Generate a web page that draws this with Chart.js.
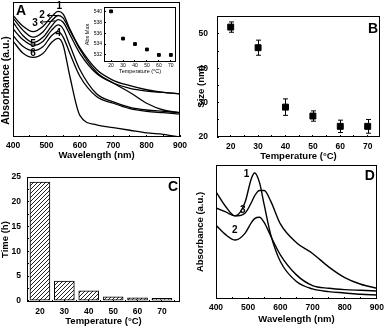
<!DOCTYPE html>
<html lang="en">
<head>
  <meta charset="UTF-8">
  <title>Absorbance / size / time vs temperature</title>
  <style>
    body { margin: 0; background: #fff; }
    #wrap { position: relative; width: 390px; height: 328px; overflow: hidden; background: #fff; }
    canvas { position: absolute; }
  </style>
</head>
<body>
  <div id="wrap">
    <canvas id="chartA" width="195" height="164" style="left:0;top:0"></canvas>
    <canvas id="chartInset" width="100" height="78" style="left:82px;top:0"></canvas>
    <canvas id="chartB" width="195" height="164" style="left:195px;top:0"></canvas>
    <canvas id="chartC" width="195" height="164" style="left:0;top:164px"></canvas>
    <canvas id="chartD" width="195" height="164" style="left:195px;top:164px"></canvas>
  </div>
  <script src="https://cdn.jsdelivr.net/npm/chart.js"></script>
  <script>
    // --- panel A: spectra at six temperatures
    const wavelengthsA = [400, 430, 460, 490, 515, 535, 550, 570, 600, 650, 700, 750, 800, 850, 900];
    const absA1 = [0.90, 0.82, 0.78, 0.82, 0.89, 0.93, 0.91, 0.80, 0.65, 0.48, 0.40, 0.33, 0.25, 0.20, 0.18];
    const absA2 = [0.88, 0.79, 0.74, 0.78, 0.86, 0.90, 0.88, 0.79, 0.66, 0.50, 0.42, 0.38, 0.35, 0.33, 0.32];
    const absA3 = [0.85, 0.75, 0.70, 0.74, 0.82, 0.87, 0.85, 0.76, 0.62, 0.47, 0.40, 0.36, 0.34, 0.33, 0.32];
    const absA4 = [0.80, 0.72, 0.68, 0.71, 0.79, 0.83, 0.80, 0.68, 0.50, 0.32, 0.26, 0.22, 0.20, 0.19, 0.18];
    const absA5 = [0.75, 0.67, 0.64, 0.67, 0.75, 0.78, 0.74, 0.62, 0.45, 0.30, 0.25, 0.21, 0.19, 0.18, 0.17];
    const absA6 = [0.71, 0.62, 0.59, 0.62, 0.70, 0.73, 0.68, 0.45, 0.16, 0.09, 0.07, 0.05, 0.03, 0.02, 0.00];
    const curveNamesA = ['1', '2', '3', '4', '5', '6'];

    // inset of A: peak position vs temperature
    const temps = [20, 30, 40, 50, 60, 70];
    const absMax = [540, 535, 534, 533, 532, 532];

    // --- panel B: particle size
    const sizes = [52, 46, 28.7, 26.1, 23.1, 23.1];
    const sizeErr = [1.5, 2.2, 2.4, 1.5, 1.8, 2.0];

    // --- panel C: reaction time
    const times = [24, 4, 2, 0.8, 0.6, 0.5];

    // --- panel D: three spectra
    const wavelengthsD = [400, 430, 460, 490, 510, 520, 535, 550, 570, 600, 650, 700, 750, 800, 850, 900];
    const absD1 = [0.80, 0.69, 0.62, 0.72, 0.90, 0.94, 0.87, 0.70, 0.48, 0.28, 0.13, 0.075, 0.055, 0.045, 0.035, 0.03];
    const absD2 = [0.55, 0.48, 0.44, 0.49, 0.57, 0.60, 0.61, 0.57, 0.47, 0.33, 0.18, 0.10, 0.08, 0.07, 0.065, 0.06];
    const absD3 = [0.68, 0.65, 0.62, 0.64, 0.72, 0.77, 0.81, 0.81, 0.73, 0.56, 0.42, 0.34, 0.24, 0.16, 0.11, 0.08];
    const curveNamesD = ['1', '2', '3'];

    const FONT = '"Liberation Sans", Arial, sans-serif';
    Chart.defaults.font.family = FONT;
    Chart.defaults.font.weight = 'bold';
    Chart.defaults.color = '#000';

    const pts = (xs, ys) => xs.map((x, i) => ({ x: x, y: ys[i] }));

    // box round the plot, panel letter, own y title and curve notes
    const frame = {
      id: 'frame',
      afterDraw(chart, args, opts) {
        const { ctx, chartArea: a, scales } = chart;
        ctx.save();
        ctx.strokeStyle = '#000';
        ctx.fillStyle = '#000';
        ctx.lineWidth = 1;
        ctx.strokeRect(Math.round(a.left) + 0.5, Math.round(a.top) + 0.5, Math.round(a.width) - 1, Math.round(a.height) - 1);
        if (opts.letter) {
          ctx.font = 'bold 14px ' + FONT;
          ctx.textBaseline = 'top';
          if (opts.letterSide === 'left') {
            ctx.textAlign = 'left';
            ctx.fillText(opts.letter, a.left + 3, a.top + 2);
          } else {
            ctx.textAlign = 'right';
            ctx.fillText(opts.letter, a.right - 2, a.top + (opts.letterDy || 3));
          }
        }
        if (opts.yTitle) {
          const t = opts.yTitle;
          ctx.save();
          ctx.font = 'bold ' + t.size + 'px ' + FONT;
          ctx.textAlign = 'center';
          ctx.textBaseline = 'middle';
          ctx.translate(t.x, (a.top + a.bottom) / 2 + t.dy);
          ctx.rotate(-Math.PI / 2);
          ctx.fillText(t.text, 0, 0);
          ctx.restore();
        }
        ctx.font = 'bold 10px ' + FONT;
        ctx.textAlign = 'center';
        ctx.textBaseline = 'middle';
        (opts.notes || []).forEach(n => {
          ctx.fillText(n.text, scales.x.getPixelForValue(n.x), scales.y.getPixelForValue(n.y));
        });
        (opts.arrows || []).forEach(r => {
          const x1 = scales.x.getPixelForValue(r[0]), y1 = scales.y.getPixelForValue(r[1]);
          const x2 = scales.x.getPixelForValue(r[2]), y2 = scales.y.getPixelForValue(r[3]);
          ctx.beginPath();
          ctx.moveTo(x1, y1); ctx.lineTo(x2, y2);
          ctx.moveTo(x1 + 3, y1 - 2); ctx.lineTo(x1, y1); ctx.lineTo(x1 + 3, y1 + 2);
          ctx.stroke();
        });
        ctx.restore();
      }
    };

    // vertical error bars for panel B
    const errBars = {
      id: 'errBars',
      beforeDatasetsDraw(chart) {
        const { ctx, scales } = chart;
        ctx.save();
        ctx.strokeStyle = '#000';
        ctx.lineWidth = 1;
        temps.forEach((t, i) => {
          const x = Math.round(scales.x.getPixelForValue(t)) + 0.5;
          const yTop = scales.y.getPixelForValue(sizes[i] + sizeErr[i]);
          const yBot = scales.y.getPixelForValue(sizes[i] - sizeErr[i]);
          ctx.beginPath();
          ctx.moveTo(x, yTop); ctx.lineTo(x, yBot);
          ctx.moveTo(x - 2.5, yTop); ctx.lineTo(x + 2.5, yTop);
          ctx.moveTo(x - 2.5, yBot); ctx.lineTo(x + 2.5, yBot);
          ctx.stroke();
        });
        ctx.restore();
      }
    };

    // major step labelled, half step as an unlabelled minor tick
    const majorOnly = step => v => (Math.abs(v / step - Math.round(v / step)) < 1e-6 ? v : '');

    function xAxis(min, max, step, title, fontSize, tickPad, titlePad, h) {
      return {
        type: 'linear', min: min, max: max, offset: false,
        border: { display: false },
        grid: { drawOnChartArea: false, offset: false, tickLength: -2, color: '#000' },
        ticks: { stepSize: step / 2, includeBounds: false, autoSkip: false, padding: tickPad + 1, font: { size: 8.5 }, maxRotation: 0, callback: majorOnly(step) },
        title: { display: true, text: title, font: { size: fontSize }, padding: { top: 0, bottom: titlePad } },
        afterFit: s => { s.height = h; }
      };
    }
    function yAxis(min, max, step, title, fontSize, showTicks, tickPad, w) {
      return {
        type: 'linear', min: min, max: max,
        border: { display: false },
        grid: { drawOnChartArea: false, drawTicks: showTicks, tickLength: -2, color: '#000' },
        ticks: { display: showTicks, stepSize: step / 2, includeBounds: false, autoSkip: false, padding: tickPad + 1, font: { size: 8.5 }, callback: majorOnly(step) },
        title: { display: !!title, text: title, font: { size: fontSize }, padding: { top: 0, bottom: 0 } },
        afterFit: s => { s.width = w; }
      };
    }
    const base = { responsive: false, animation: false, events: [] };

    // A
    const seriesA = [absA1, absA2, absA3, absA4, absA5, absA6];
    new Chart(document.getElementById('chartA'), {
      type: 'line',
      data: {
        datasets: seriesA.map((s, i) => ({
          label: curveNamesA[i],
          data: pts(wavelengthsA, s),
          borderColor: '#000', borderWidth: 1.3, pointRadius: 0,
          cubicInterpolationMode: 'monotone'
        }))
      },
      options: Object.assign({}, base, {
        layout: { padding: { top: 2, right: 15, left: 0, bottom: 0 } },
        plugins: {
          legend: { display: false }, tooltip: { enabled: false },
          frame: {
            letter: 'A', letterSide: 'left',
            yTitle: { text: 'Absorbance (a.u.)', size: 10.5, x: 6, dy: 11 },
            notes: [
              { text: '1', x: 538, y: 0.97 }, { text: '2', x: 487, y: 0.90 },
              { text: '3', x: 466, y: 0.84 }, { text: '4', x: 535, y: 0.77 },
              { text: '5', x: 460, y: 0.69 }, { text: '6', x: 460, y: 0.62 }
            ],
            arrows: [[502, 0.90, 533, 0.90], [481, 0.85, 527, 0.86]]
          }
        },
        scales: {
          x: xAxis(400, 900, 100, 'Wavelength (nm)', 9.5, 5, 3, 27),
          y: yAxis(0, 1, 0.2, '', 11, false, 0, 13)
        }
      }),
      plugins: [frame]
    });

    // inset
    new Chart(document.getElementById('chartInset'), {
      type: 'scatter',
      data: { datasets: [{ data: pts(temps, absMax), backgroundColor: '#000', borderColor: '#000', pointStyle: 'rect', pointRadius: 2 }] },
      options: Object.assign({}, base, {
        layout: { padding: { top: 1, right: 6, left: 0, bottom: 0 } },
        plugins: { legend: { display: false }, tooltip: { enabled: false }, frame: {} },
        scales: {
          x: {
            type: 'linear', min: 14.1, max: 74.3,
            border: { display: false },
            grid: { drawOnChartArea: false, tickLength: -2, color: '#000' },
            ticks: { stepSize: 10, includeBounds: false, autoSkip: false, padding: 3, font: { size: 5, weight: 'normal' }, maxRotation: 0 },
            title: { display: true, text: 'Temperature (°C)', font: { size: 5.5, weight: 'normal' }, padding: { top: 0, bottom: 3 } },
            afterFit: s => { s.height = 16; }
          },
          y: {
            type: 'linear', min: 530.7, max: 540.8,
            border: { display: false },
            grid: { drawOnChartArea: false, tickLength: -2, color: '#000' },
            ticks: { stepSize: 2, includeBounds: false, autoSkip: false, padding: 4, font: { size: 5, weight: 'normal' } },
            title: { display: true, text: 'Abs Max', font: { size: 5.5, weight: 'normal' }, padding: { top: 2, bottom: 0 } },
            afterFit: s => { s.width = 22; }
          }
        }
      }),
      plugins: [frame]
    });

    // B
    new Chart(document.getElementById('chartB'), {
      type: 'scatter',
      data: { datasets: [{ data: pts(temps, sizes), backgroundColor: '#000', borderColor: '#000', pointStyle: 'rect', pointRadius: 4.2 }] },
      options: Object.assign({}, base, {
        layout: { padding: { top: 1, right: 10, left: 0, bottom: 0 } },
        plugins: {
          legend: { display: false }, tooltip: { enabled: false },
          frame: { letter: 'B', letterDy: 6, yTitle: { text: 'Size (nm)', size: 9.5, x: 6, dy: 10 } }
        },
        scales: {
          x: xAxis(15, 74.5, 10, 'Temperature (°C)', 9.5, 6, 2, 27),
          y: yAxis(20, 55.2, 10, '', 9.5, true, 10, 22)
        }
      }),
      plugins: [frame, errBars]
    });

    // C
    const ctxC = document.getElementById('chartC').getContext('2d');
    const tile = document.createElement('canvas');
    tile.width = 4; tile.height = 4;
    const tg = tile.getContext('2d');
    tg.fillStyle = '#fff'; tg.fillRect(0, 0, 4, 4);
    tg.strokeStyle = '#222'; tg.lineWidth = 1;
    tg.beginPath();
    tg.moveTo(0, 4); tg.lineTo(4, 0);
    tg.moveTo(-1, 1); tg.lineTo(1, -1);
    tg.moveTo(3, 5); tg.lineTo(5, 3);
    tg.stroke();
    const hatch = ctxC.createPattern(tile, 'repeat');

    new Chart(ctxC, {
      type: 'bar',
      data: { datasets: [{ data: pts(temps, times), backgroundColor: hatch, borderColor: '#000', borderWidth: 1, borderSkipped: false, barThickness: 20 }] },
      options: Object.assign({}, base, {
        layout: { padding: { top: 2.5, right: 15, left: 0, bottom: 0 } },
        plugins: { legend: { display: false }, tooltip: { enabled: false }, frame: { letter: 'C', letterDy: 3 } },
        scales: {
          x: xAxis(14.7, 77.4, 10, 'Temperature (°C)', 9.5, 6, 1, 26),
          y: yAxis(-0.25, 25, 5, 'Time (h)', 9.5, true, 7, 27)
        }
      }),
      plugins: [frame]
    });

    // D
    const seriesD = [absD1, absD2, absD3];
    new Chart(document.getElementById('chartD'), {
      type: 'line',
      data: {
        datasets: seriesD.map((s, i) => ({
          label: curveNamesD[i],
          data: pts(wavelengthsD, s),
          borderColor: '#000', borderWidth: 1.4, pointRadius: 0,
          cubicInterpolationMode: 'monotone'
        }))
      },
      options: Object.assign({}, base, {
        layout: { padding: { top: 1, right: 9, left: 0, bottom: 0 } },
        plugins: {
          legend: { display: false }, tooltip: { enabled: false },
          frame: {
            letter: 'D', letterDy: 4,
            notes: [{ text: '1', x: 495, y: 0.93 }, { text: '2', x: 458, y: 0.51 }, { text: '3', x: 483, y: 0.66 }]
          }
        },
        scales: {
          x: xAxis(400, 900, 100, 'Wavelength (nm)', 9.5, 5, 3, 29),
          y: yAxis(0, 1, 0.2, 'Absorbance (a.u.)', 9.5, false, 0, 21)
        }
      }),
      plugins: [frame]
    });
  </script>
</body>
</html>
